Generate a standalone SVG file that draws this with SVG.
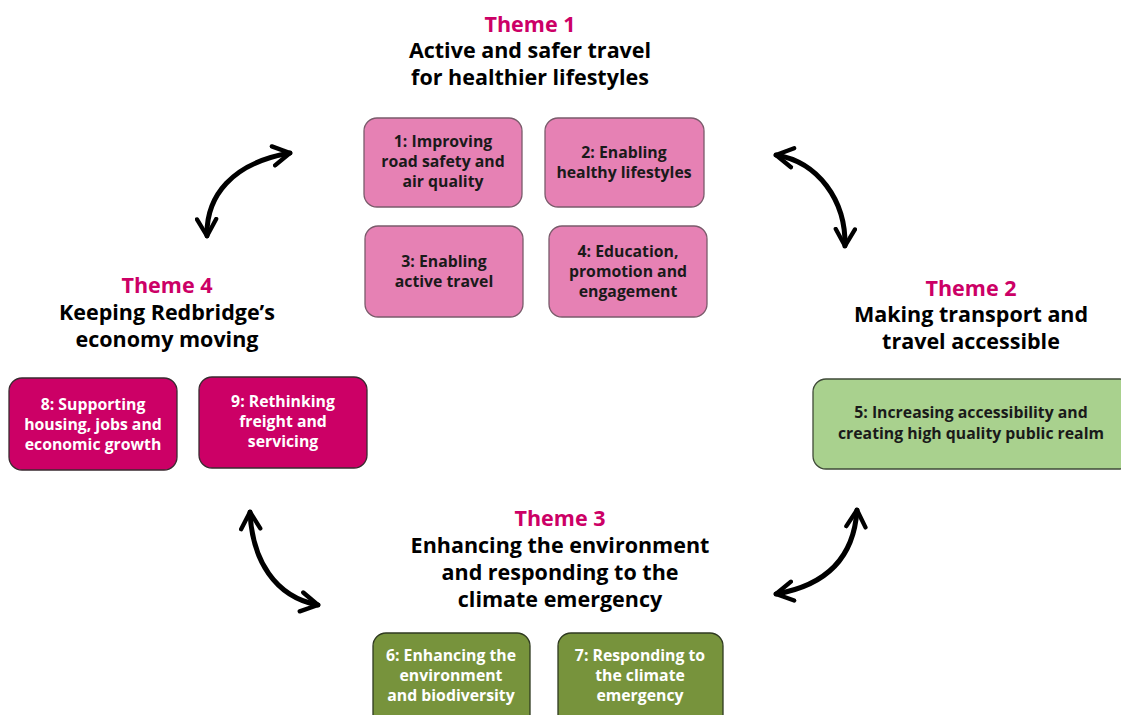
<svg xmlns="http://www.w3.org/2000/svg" width="1121" height="715" viewBox="0 0 1121 715">
  <defs>
    <style>
      .title { font-family: "Open Sans", "Noto Sans", "Liberation Sans", sans-serif; font-weight: 700; font-size: 21.5px; text-anchor: middle; fill: #000; }
      .theme { fill: #CC0066; }
      .lbl { font-family: "Open Sans", "Noto Sans", "Liberation Sans", sans-serif; font-weight: 700; font-size: 15.8px; text-anchor: middle; }
      .pink { fill: #E681B4; stroke: #7a5b6b; stroke-width: 1.3; }
      .magenta { fill: #CC0066; stroke: #3a2a30; stroke-width: 1.3; }
      .lightgreen { fill: #A9D18E; stroke: #3f4a38; stroke-width: 1.3; }
      .olive { fill: #77933C; stroke: #2f3a20; stroke-width: 1.3; }
      .dark { fill: #1a1a1a; }
      .light { fill: #ffffff; }
      .link { fill: none; stroke: #000; stroke-width: 5; stroke-linecap: round; stroke-linejoin: round; }
    </style>
    <marker id="chev" viewBox="0 0 10 10" refX="8" refY="5" markerWidth="4.8" markerHeight="4.8" orient="auto-start-reverse" markerUnits="strokeWidth">
      <path d="M1,1 L8,5 L1,9" fill="none" stroke="#000" stroke-width="1.8" stroke-linecap="round" stroke-linejoin="round"/>
    </marker>
  </defs>
  <rect width="1121" height="715" fill="#ffffff"/>

  <!-- Theme headings -->
  <g id="theme1">
    <text class="title theme" x="530" y="32">Theme 1</text>
    <text class="title" x="530" y="58">Active and safer travel</text>
    <text class="title" x="530" y="85">for healthier lifestyles</text>
  </g>
  <g id="theme2">
    <text class="title theme" x="971" y="296">Theme 2</text>
    <text class="title" x="971" y="322">Making transport and</text>
    <text class="title" x="971" y="349">travel accessible</text>
  </g>
  <g id="theme3">
    <text class="title theme" x="560" y="526">Theme 3</text>
    <text class="title" x="560" y="553">Enhancing the environment</text>
    <text class="title" x="560" y="580">and responding to the</text>
    <text class="title" x="560" y="607">climate emergency</text>
  </g>
  <g id="theme4">
    <text class="title theme" x="167" y="293">Theme 4</text>
    <text class="title" x="167" y="320">Keeping Redbridge’s</text>
    <text class="title" x="167" y="347">economy moving</text>
  </g>

  <!-- Theme 1 objectives -->
  <g id="obj1">
    <rect class="pink" x="364" y="118" width="158" height="89" rx="13"/>
    <text class="lbl dark" x="443" y="147">1: Improving</text>
    <text class="lbl dark" x="443" y="167">road safety and</text>
    <text class="lbl dark" x="443" y="187">air quality</text>
  </g>
  <g id="obj2">
    <rect class="pink" x="545" y="118" width="159" height="89" rx="13"/>
    <text class="lbl dark" x="624" y="158">2: Enabling</text>
    <text class="lbl dark" x="624" y="178">healthy lifestyles</text>
  </g>
  <g id="obj3">
    <rect class="pink" x="365" y="226" width="158" height="91" rx="13"/>
    <text class="lbl dark" x="444" y="267">3: Enabling</text>
    <text class="lbl dark" x="444" y="287">active travel</text>
  </g>
  <g id="obj4">
    <rect class="pink" x="549" y="226" width="158" height="91" rx="13"/>
    <text class="lbl dark" x="628" y="257">4: Education,</text>
    <text class="lbl dark" x="628" y="277">promotion and</text>
    <text class="lbl dark" x="628" y="297">engagement</text>
  </g>

  <!-- Theme 2 objective -->
  <g id="obj5">
    <rect class="lightgreen" x="813" y="379" width="320" height="90" rx="13"/>
    <text class="lbl dark" x="971" y="418">5: Increasing accessibility and</text>
    <text class="lbl dark" x="971" y="439">creating high quality public realm</text>
  </g>

  <!-- Theme 3 objectives -->
  <g id="obj6">
    <rect class="olive" x="373" y="633" width="157" height="100" rx="13"/>
    <text class="lbl light" x="451" y="661">6: Enhancing the</text>
    <text class="lbl light" x="451" y="681">environment</text>
    <text class="lbl light" x="451" y="701">and biodiversity</text>
  </g>
  <g id="obj7">
    <rect class="olive" x="558" y="633" width="165" height="100" rx="13"/>
    <text class="lbl light" x="640" y="661">7: Responding to</text>
    <text class="lbl light" x="640" y="681">the climate</text>
    <text class="lbl light" x="640" y="701">emergency</text>
  </g>

  <!-- Theme 4 objectives -->
  <g id="obj8">
    <rect class="magenta" x="9" y="378" width="168" height="92" rx="13"/>
    <text class="lbl light" x="93" y="410">8: Supporting</text>
    <text class="lbl light" x="93" y="430">housing, jobs and</text>
    <text class="lbl light" x="93" y="450">economic growth</text>
  </g>
  <g id="obj9">
    <rect class="magenta" x="199" y="377" width="168" height="91" rx="13"/>
    <text class="lbl light" x="283" y="407">9: Rethinking</text>
    <text class="lbl light" x="283" y="427">freight and</text>
    <text class="lbl light" x="283" y="447">servicing</text>
  </g>

  <!-- Two-way curved arrows between themes -->
  <g id="connectors">
    <path class="link" d="M207,236 C206,196 232,163 290,153" marker-start="url(#chev)" marker-end="url(#chev)"/>
    <path class="link" d="M776,155 C818,162 846,200 845,246" marker-start="url(#chev)" marker-end="url(#chev)"/>
    <path class="link" d="M250,512 C252,560 275,597 318,605" marker-start="url(#chev)" marker-end="url(#chev)"/>
    <path class="link" d="M857,510 C854,556 828,585 776,594" marker-start="url(#chev)" marker-end="url(#chev)"/>
  </g>
</svg>
